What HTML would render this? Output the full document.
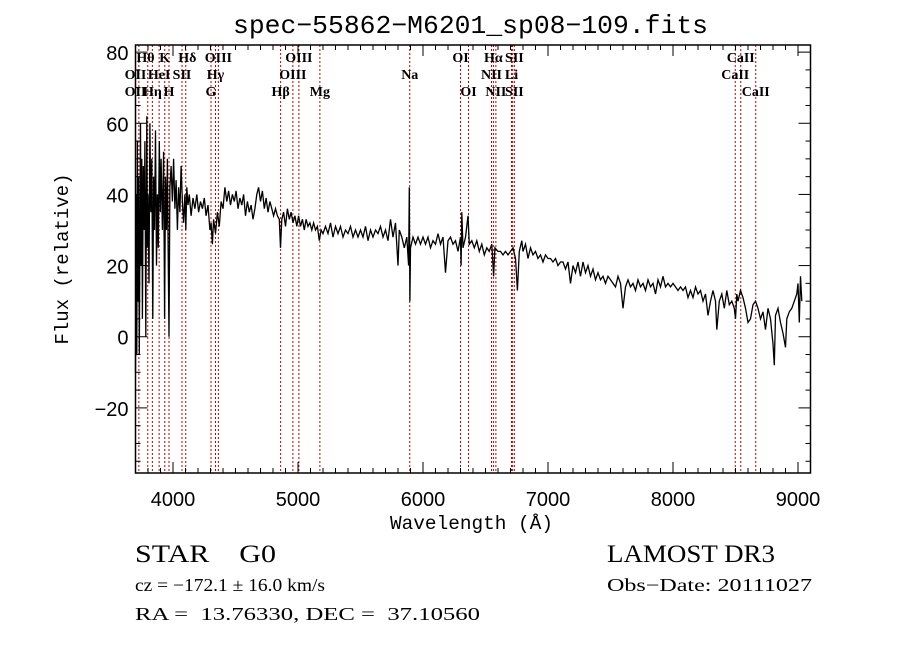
<!DOCTYPE html>
<html><head><meta charset="utf-8"><style>
html,body{margin:0;padding:0;background:#fff;}
svg{display:block;}
text{white-space:pre;}
</style></head><body>
<svg id="chart" width="900" height="649" xmlns="http://www.w3.org/2000/svg" xml:space="preserve">
<rect x="0" y="0" width="900" height="649" fill="#fff"/>
<text x="233" y="33" textLength="475" lengthAdjust="spacingAndGlyphs" font-family="Liberation Mono, monospace" font-size="26">spec−55862−M6201_sp08−109.fits</text>
<g id="lines"></g>
<g id="labels" font-family="Liberation Serif, serif" font-size="14" font-weight="bold"></g>
<path id="spec" fill="none" stroke="#000" stroke-width="1.3"/>
<g id="axes"></g>
<text x="390" y="529" textLength="163" lengthAdjust="spacingAndGlyphs" font-family="Liberation Mono, monospace" font-size="19">Wavelength (Å)</text>
<text transform="translate(68,259) rotate(-90)" text-anchor="middle" font-family="Liberation Mono, monospace" font-size="19">Flux (relative)</text>
<g font-family="Liberation Serif, serif">
<text x="135" y="562" textLength="141" lengthAdjust="spacingAndGlyphs" font-size="25">STAR    G0</text>
<text x="135" y="591" textLength="190" lengthAdjust="spacingAndGlyphs" font-size="18">cz = −172.1 ± 16.0 km/s</text>
<text x="135" y="620" textLength="345" lengthAdjust="spacingAndGlyphs" font-size="18">RA =  13.76330, DEC =  37.10560</text>
<text x="607" y="562" textLength="168" lengthAdjust="spacingAndGlyphs" font-size="25">LAMOST DR3</text>
<text x="607" y="591" textLength="205" lengthAdjust="spacingAndGlyphs" font-size="18">Obs−Date: 20111027</text>
</g>
</svg>
<script>
const wave=[3700,3705,3710,3715,3720,3725,3730,3740,3745,3750,3755,3762,3770,3775,3782,3790,3795,3800,3808,3815,3822,3830,3838,3845,3852,3860,3868,3875,3882,3890,3898,3905,3915,3925,3933,3940,3948,3955,3962,3968,3975,3985,3995,4005,4015,4025,4035,4045,4055,4065,4075,4085,4095,4102,4110,4120,4130,4145,4160,4175,4190,4205,4220,4235,4250,4265,4280,4295,4305,4315,4325,4340,4355,4370,4385,4400,4415,4430,4445,4460,4475,4490,4505,4520,4535,4550,4565,4580,4595,4610,4625,4640,4655,4670,4685,4700,4715,4730,4745,4760,4775,4790,4805,4820,4835,4850,4860,4870,4885,4900,4915,4930,4945,4960,4975,4990,5005,5020,5035,5050,5065,5080,5095,5110,5125,5140,5155,5170,5185,5200,5220,5240,5260,5280,5300,5320,5340,5360,5380,5400,5420,5440,5460,5480,5500,5520,5540,5560,5580,5600,5620,5640,5660,5680,5700,5720,5740,5760,5780,5800,5810,5830,5850,5870,5885,5890,5895,5900,5920,5940,5960,5980,6000,6020,6040,6060,6080,6100,6120,6140,6160,6180,6200,6220,6240,6260,6280,6300,6305,6310,6320,6340,6360,6370,6390,6410,6430,6450,6470,6490,6510,6530,6550,6565,6575,6600,6620,6640,6660,6680,6700,6720,6740,6755,6770,6790,6800,6820,6840,6860,6880,6900,6920,6940,6960,6980,7000,7020,7040,7060,7080,7100,7120,7140,7160,7180,7200,7220,7240,7260,7280,7300,7320,7340,7360,7380,7400,7420,7440,7460,7480,7500,7520,7540,7560,7580,7600,7620,7640,7660,7680,7700,7720,7740,7760,7780,7800,7820,7840,7860,7880,7900,7920,7940,7960,7980,8000,8020,8040,8060,8080,8100,8120,8140,8160,8180,8200,8220,8240,8260,8280,8300,8320,8340,8350,8370,8390,8410,8430,8450,8470,8490,8500,8510,8520,8540,8560,8580,8600,8620,8640,8660,8680,8700,8720,8740,8760,8780,8800,8810,8820,8840,8860,8880,8900,8910,8930,8950,8970,8990,9000,9010,9020,9030];
const flux=[-10,40,-5,55,10,45,-5,60,20,50,5,48,30,55,0,62,25,40,15,60,35,50,5,45,30,58,20,40,25,55,35,50,30,52,5,45,30,50,20,0,42,48,38,50,36,44,30,42,35,48,38,32,40,30,42,37,40,34,39,36,40,35,38,36,39,34,37,30,32,26,33,29,35,31,38,36,42,38,41,37,40,38,41,36,39,37,40,34,38,35,37,33,36,40,42,38,41,36,39,35,38,36,34,36,34,33,25,33,35,31,36,33,35,32,34,31,34,31,33,30,33,31,32,30,32,30,31,27,30,29,31,29,32,28,31,29,31,28,30,29,31,28,30,28,30,28,31,27,30,28,30,29,31,28,30,27,33,28,32,20,30,28,25,28,20,42,10,25,28,26,28,26,28,26,28,25,27,26,29,26,28,18,27,28,26,27,24,28,20,35,25,28,34,26,27,25,27,24,26,23,25,24,26,17,25,24,24,23,24,23,24,25,22,13,24,27,24,26,22,25,23,24,22,23,21,23,22,22,21,22,20,21,21,19,21,15,20,18,21,17,21,18,20,17,19,16,18,16,17,15,17,16,15,14,17,15,8,14,16,14,15,13,16,14,15,13,16,14,15,12,16,14,17,14,15,14,15,14,13,14,13,14,11,13,11,14,12,13,10,12,6,10,13,10,2,10,12,8,13,9,10,8,5,12,10,13,11,8,4,5,9,10,8,5,7,2,8,5,-2,-8,6,8,4,1,-3,5,7,8,10,12,15,4,17,10];
const lineWaves=[3727,3798,3835,3889,3934,3968,4072,4102,4304,4340,4363,4861,4959,5007,5175,5894,6300,6364,6548,6563,6583,6708,6717,6731,8498,8542,8662];
const labelText=["Hθ","K","Hδ","OIII","OIII","OI","Hα","SII","CaII","OII","HeI","SII","Hγ","OIII","Na","NII","Li","CaII","OII","Hη","H","G","Hβ","Mg","OI","NII","SII","CaII"];
const labelWave=[3780,3934,4115,4363,5007,6300,6563,6731,8542,3700,3889,4072,4340,4959,5894,6548,6708,8498,3700,3835,3968,4304,4861,5175,6364,6583,6731,8662];
const labelRow=[0,0,0,0,0,0,0,0,0,1,1,1,1,1,1,1,1,1,2,2,2,2,2,2,2,2,2,2];
const xTicks=[4000,5000,6000,7000,8000,9000];
const yTicks=[-20,0,20,40,60,80];

const X0=135.5,X1=810.5,Y0=45,Y1=473,WMIN=3700,WMAX=9100,FMIN=-38.3,FMAX=82;
const xs=w=>X0+(w-WMIN)/(WMAX-WMIN)*(X1-X0);
const ys=f=>Y1-(f-FMIN)/(FMAX-FMIN)*(Y1-Y0);
const NS="http://www.w3.org/2000/svg";
function mk(tag,attrs,parent){const e=document.createElementNS(NS,tag);for(const k in attrs)e.setAttribute(k,attrs[k]);parent.appendChild(e);return e;}

const gl=document.getElementById('lines');
lineWaves.forEach(w=>{const l=mk('line',{x1:xs(w),x2:xs(w),y1:Y0,y2:Y1,stroke:'#c00000','stroke-width':1,'stroke-dasharray':'2,2'},gl);

});

const glab=document.getElementById('labels');
labelText.forEach((t,i)=>{const e=mk('text',{x:xs(labelWave[i]),y:62+labelRow[i]*17,'text-anchor':'middle'},glab);e.textContent=t;

});

let d='';wave.forEach((w,i)=>{d+=(i?'L':'M')+xs(w).toFixed(1)+','+ys(flux[i]).toFixed(1);});
document.getElementById('spec').setAttribute('d',d);

const ga=document.getElementById('axes');
mk('rect',{x:X0,y:Y0,width:X1-X0,height:Y1-Y0,fill:'none',stroke:'#000','stroke-width':1.5},ga);
for(let w=3800;w<=9100;w+=100){const big=w%1000===0;const L=big?11:5;
mk('line',{x1:xs(w),x2:xs(w),y1:Y1,y2:Y1-L,stroke:'#000'},ga);
mk('line',{x1:xs(w),x2:xs(w),y1:Y0,y2:Y0+L,stroke:'#000'},ga);}
xTicks.forEach(w=>{const t=mk('text',{x:xs(w),y:Y1+33,'text-anchor':'middle','font-family':'Liberation Sans, sans-serif','font-size':20},ga);t.textContent=w;

});
for(let f=-35;f<=80;f+=5){const big=f%20===0;const L=big?12:5;
mk('line',{x1:X0,x2:X0+L,y1:ys(f),y2:ys(f),stroke:'#000'},ga);
mk('line',{x1:X1,x2:X1-L,y1:ys(f),y2:ys(f),stroke:'#000'},ga);}
yTicks.forEach(f=>{const t=mk('text',{x:X0-7,y:ys(f)+8,'text-anchor':'end','font-family':'Liberation Sans, sans-serif','font-size':20},ga);t.textContent=f<0?'−'+(-f):f;

});
</script>
</body></html>
